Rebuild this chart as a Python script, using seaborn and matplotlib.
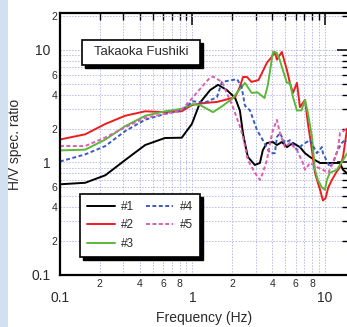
import matplotlib
matplotlib.use("Agg")
import matplotlib.pyplot as plt
import seaborn as sns
import pandas as pd
from matplotlib.ticker import FixedLocator, FixedFormatter
from matplotlib.patches import Rectangle

# ---------------- data ----------------
f1 = [0.1, 0.155, 0.22, 0.31, 0.44, 0.62, 0.83, 0.99, 1.14, 1.36, 1.56, 1.82, 2.1, 2.28, 2.41, 2.5, 2.62,
      2.96, 3.23, 3.4, 3.65, 4.05, 4.34, 4.73, 5.17, 5.74, 6.48, 7.07, 7.71, 8.4, 9.2, 10.35, 11.5, 13.0, 13.7, 14.7]
v1 = [0.64, 0.66, 0.77, 1.05, 1.43, 1.65, 1.66, 2.2, 3.4, 4.4, 4.9, 4.4, 3.75, 2.9, 1.8, 1.45, 1.12,
      0.95, 0.99, 1.29, 1.49, 1.52, 1.43, 1.52, 1.37, 1.49, 1.37, 1.21, 1.12, 1.05, 0.99, 0.99, 0.99, 0.99, 0.86, 0.8]

f2 = [0.1, 0.155, 0.22, 0.31, 0.44, 0.62, 0.83, 0.99, 1.24, 1.53, 1.76, 1.99, 2.1, 2.28, 2.41, 2.58, 2.79,
      3.15, 3.35, 3.65, 3.98, 4.19, 4.34, 4.73, 5.17, 5.44, 5.74, 6.15, 6.48, 7.07, 7.44, 7.98, 8.41, 8.85,
      9.2, 9.66, 10.1, 10.6, 11.3, 12.2, 13.0, 13.7, 14.7]
v2 = [1.6, 1.78, 2.2, 2.6, 2.85, 2.8, 2.85, 3.24, 3.38, 3.45, 3.6, 3.74, 3.8, 4.7, 5.75, 5.75, 5.2,
      5.4, 6.25, 7.7, 8.7, 9.6, 8.2, 9.6, 6.6, 5.1, 4.15, 5.1, 3.1, 3.6, 2.24, 1.29, 0.81, 0.66,
      0.57, 0.46, 0.48, 0.6, 0.7, 0.82, 0.91, 1.12, 2.0]

f3 = [0.1, 0.155, 0.22, 0.31, 0.44, 0.62, 0.83, 1.0, 1.14, 1.43, 1.7, 2.0, 2.49, 2.8, 3.1, 3.5, 3.71,
      4.05, 4.34, 4.57, 4.82, 5.17, 5.44, 5.74, 6.15, 6.65, 7.07, 7.44, 7.98, 8.41, 8.85, 9.49, 10.0,
      10.35, 10.9, 12.3, 13.7, 14.7]
v3 = [1.28, 1.3, 1.6, 2.1, 2.6, 2.85, 3.0, 3.3, 3.24, 2.8, 3.2, 3.7, 5.1, 4.15, 4.2, 3.74, 4.9,
      9.6, 9.4, 8.1, 6.6, 5.1, 5.1, 3.8, 2.9, 2.9, 3.6, 2.75, 1.7, 0.86, 0.7, 0.6, 0.57,
      0.7, 0.81, 0.86, 1.05, 1.2]

f4 = [0.1, 0.155, 0.22, 0.31, 0.44, 0.62, 0.83, 1.0, 1.24, 1.53, 1.67, 2.17, 2.35, 2.49, 2.72, 3.07, 3.4,
      3.85, 4.19, 4.34, 4.57, 4.99, 5.44, 6.15, 6.82, 7.71, 8.7, 9.49, 9.66, 10.9, 11.5, 12.5, 13.4, 14.2, 14.7]
v4 = [1.02, 1.18, 1.4, 1.9, 2.4, 2.7, 2.9, 3.5, 3.4, 3.8, 5.2, 5.5, 4.7, 3.2, 2.9, 1.94, 1.58,
      1.21, 1.21, 1.68, 1.83, 1.49, 1.58, 1.29, 1.45, 1.58, 1.21, 1.37, 1.21, 0.91, 0.99, 1.29, 1.49, 1.58, 1.55]

f5 = [0.1, 0.155, 0.22, 0.31, 0.44, 0.62, 0.83, 0.99, 1.14, 1.36, 1.43, 1.67, 2.0, 2.28, 2.41, 2.62, 2.96,
      3.23, 3.4, 3.65, 3.85, 4.05, 4.34, 4.57, 4.99, 5.44, 6.15, 6.82, 7.07, 7.71, 8.7, 9.66, 10.6, 11.5,
      12.5, 13.0, 14.2, 14.7]
v5 = [1.4, 1.4, 1.67, 2.05, 2.5, 2.7, 2.95, 3.7, 4.5, 5.7, 5.8, 5.2, 3.2, 2.1, 1.68, 1.05, 0.81,
      0.70, 0.81, 1.05, 1.49, 1.94, 2.39, 1.83, 1.37, 1.49, 1.29, 0.99, 0.86, 0.99, 0.91, 0.86, 0.81, 0.99,
      1.29, 1.83, 1.94, 2.0]

series_names = ["#1", "#2", "#3", "#4", "#5"]
x_major = [0.1, 1, 10]
x_major_labels = ["0.1", "1", "10"]
x_minor = [0.2, 0.3, 0.4, 0.5, 0.6, 0.7, 0.8, 0.9, 2, 3, 4, 5, 6, 7, 8, 9]
x_minor_labels = ["2", "", "4", "", "6", "", "8", "", "2", "", "4", "", "6", "", "8", ""]
y_major = [0.1, 1, 10]
y_major_labels = ["0.1", "1", "10"]
y_minor = [0.2, 0.3, 0.4, 0.5, 0.6, 0.7, 0.8, 0.9, 2, 3, 4, 5, 6, 7, 8, 9, 20]
y_minor_labels = ["2", "", "4", "", "6", "", "", "", "2", "", "4", "", "6", "", "", "", "2"]
title_text = "Takaoka Fushiki"

# ---------------- styling ----------------
sns.set_style("white")
plt.rcParams["font.family"] = ["Liberation Sans", "DejaVu Sans"]

colors = ["#000000", "#ee1c1c", "#5cb83a", "#3a5bbf", "#dc5fb0"]
styles = ["-", "-", "-", (0, (2.0, 1.3)), (0, (2.0, 1.3))]
txt = "#2a2a2a"

fig = plt.figure(figsize=(3.47, 3.27), dpi=100)
fig.patches.append(Rectangle((0, 0), 8 / 347, 1, transform=fig.transFigure,
                             facecolor="#d3e0f2", edgecolor="none", zorder=0))
ax = fig.add_axes([60 / 347, 52 / 327, 289 / 347, 262 / 327])

data = [(f1, v1), (f2, v2), (f3, v3), (f4, v4), (f5, v5)]
for (f, v), name, c, ls in zip(data, series_names, colors, styles):
    df = pd.DataFrame({"freq": f, "hv": v})
    sns.lineplot(data=df, x="freq", y="hv", ax=ax, color=c, linestyle=ls, lw=1.4,
                 estimator=None, sort=False, label=name)

ax.set_xscale("log")
ax.set_yscale("log")
ax.set_xlim(0.1, 15.2)
ax.set_ylim(0.1, 21.3)

ax.xaxis.set_major_locator(FixedLocator(x_major))
ax.xaxis.set_major_formatter(FixedFormatter(x_major_labels))
ax.xaxis.set_minor_locator(FixedLocator(x_minor))
ax.xaxis.set_minor_formatter(FixedFormatter(x_minor_labels))
ax.yaxis.set_major_locator(FixedLocator(y_major))
ax.yaxis.set_major_formatter(FixedFormatter(y_major_labels))
ax.yaxis.set_minor_locator(FixedLocator(y_minor))
ax.yaxis.set_minor_formatter(FixedFormatter(y_minor_labels))

ax.tick_params(which="both", direction="in", top=True, right=True, colors="black", labelcolor=txt)
ax.tick_params(which="major", length=8.5, width=1.1, labelsize=10)
ax.tick_params(which="minor", length=5, width=1.0, labelsize=7.5)
ax.tick_params(axis="x", which="major", pad=11.5)
ax.tick_params(axis="x", which="minor", pad=3)
ax.tick_params(axis="y", which="major", pad=7)
ax.tick_params(axis="y", which="minor", pad=2)

for sp in ax.spines.values():
    sp.set_linewidth(1.6)
    sp.set_color("black")

ax.grid(which="both", color="#b9b9e3", linestyle=(0, (1.5, 1.5)), linewidth=0.7)
ax.set_axisbelow(True)

ax.set_xlabel("Frequency (Hz)", fontsize=10, color=txt)
ax.xaxis.set_label_coords(0.5, -0.137)
ax.set_ylabel("H/V spec. ratio", fontsize=10, color=txt)
ax.yaxis.set_label_coords(-0.13, 0.5)

# title box with shadow
tx0, ty0, tx1, ty1 = 0.076, 0.802, 0.484, 0.897
dx, dy = 3 / 289, 3 / 262
ax.add_patch(Rectangle((tx0 + dx, ty0 - dy), tx1 - tx0, ty1 - ty0, transform=ax.transAxes,
                       facecolor="black", edgecolor="black", zorder=6))
ax.add_patch(Rectangle((tx0, ty0), tx1 - tx0, ty1 - ty0, transform=ax.transAxes,
                       facecolor="white", edgecolor="black", lw=1.2, zorder=7))
ax.text((tx0 + tx1) / 2, (ty0 + ty1) / 2, title_text, transform=ax.transAxes, ha="center",
        va="center", fontsize=9.5, color=txt, zorder=8)

# legend
leg = ax.legend(ncol=2, loc="lower left", bbox_to_anchor=(0.069, 0.0687), borderaxespad=0,
                fontsize=8.5, frameon=True, fancybox=False, framealpha=1, edgecolor="black",
                handlelength=2.35, handletextpad=0.55, columnspacing=0.95, labelspacing=0.55,
                borderpad=0.6)
leg.get_frame().set_linewidth(1.2)
leg.set_zorder(7)
for t in leg.get_texts():
    t.set_color(txt)

fig.canvas.draw()
bb = leg.get_frame().get_window_extent().transformed(ax.transAxes.inverted())
ax.add_patch(Rectangle((bb.x0 + dx, bb.y0 - dy), bb.width, bb.height, transform=ax.transAxes,
                       facecolor="black", edgecolor="black", zorder=6))

fig.savefig("out.png", dpi=100)
